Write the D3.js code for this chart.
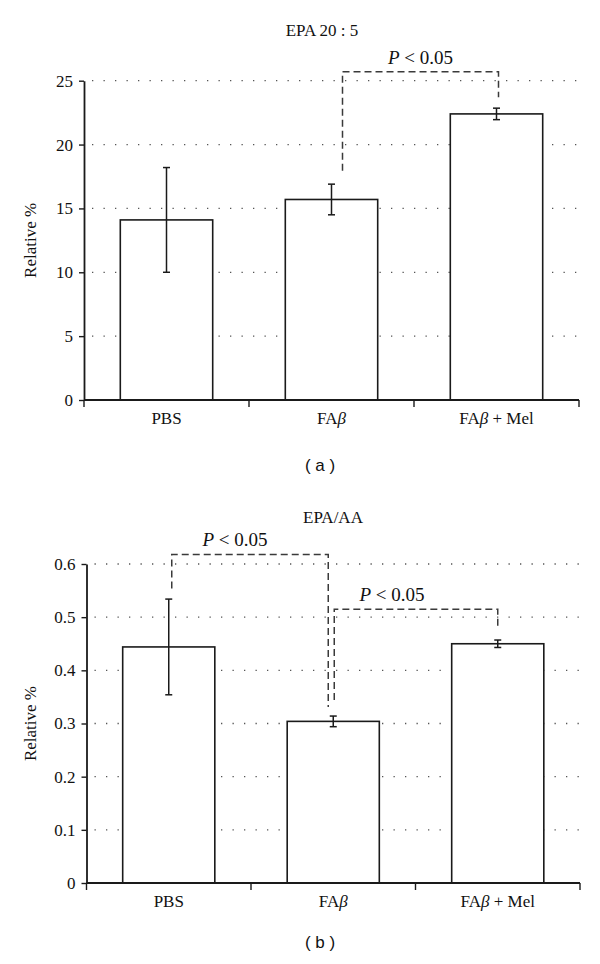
<!DOCTYPE html>
<html>
<head>
<meta charset="utf-8">
<script src="https://cdn.jsdelivr.net/npm/d3@7"></script>
<style>
  html, body { margin: 0; padding: 0; background: #fff; }
  svg { display: block; }
  .serif { font-family: "Liberation Serif", "Times New Roman", Times, serif; }
  .sans { font-family: "Liberation Sans", Arial, "DejaVu Sans", sans-serif; }
</style>
</head>
<body>
<svg id="chart" width="600" height="964"></svg>
<script>
// ---- data ----
const categories = ["PBS", "FAβ", "FAβ + Mel"];
const epaMeans = [14.1, 15.7, 22.4];
const epaErrors = [4.1, 1.2, 0.45];
const epaTicks = [0, 5, 10, 15, 20, 25];
const ratioMeans = [0.444, 0.304, 0.450];
const ratioErrors = [0.09, 0.01, 0.007];
const ratioTicks = [0, 0.1, 0.2, 0.3, 0.4, 0.5, 0.6];
const epaBrackets = [{ from: 1, to: 2, top: 25.7, fromEnd: 17.95, toEnd: 23.7, label: "P < 0.05" }];
const ratioBrackets = [
  { from: 0, to: 1, top: 0.618, fromEnd: 0.554, toEnd: 0.331, label: "P < 0.05" },
  { from: 1, to: 2, top: 0.515, fromEnd: 0.344, toEnd: 0.479, label: "P < 0.05" }
];

const svg = d3.select("#chart");

function catLabel(sel, name) {
  const parts = name.split("β");
  sel.append("tspan").text(parts[0]);
  if (parts.length > 1) {
    sel.append("tspan").style("font-style", "italic").text("β");
    sel.append("tspan").text(parts[1]);
  }
}

function pLabel(sel, label) {
  sel.append("tspan").style("font-style", "italic").text(label.slice(0, 1));
  sel.append("tspan").text(label.slice(1));
}

function panel(cfg) {
  const g = svg.append("g");
  const x = d3.scaleBand().domain(categories)
    .range([cfg.x0, cfg.x1]).paddingInner(0.44).paddingOuter(0.22);
  const y = d3.scaleLinear().domain([0, cfg.max]).range([cfg.y0, cfg.y1]);
  const step = x.step();

  // gridlines (dotted)
  g.append("g").selectAll("line").data(cfg.ticks.filter(t => t > 0)).join("line")
    .attr("x1", cfg.x0 + 8).attr("x2", cfg.x1)
    .attr("y1", d => y(d)).attr("y2", d => y(d))
    .attr("stroke", "#555").attr("stroke-width", 1.3)
    .attr("stroke-dasharray", "1.3 10.2");

  // bars
  g.append("g").selectAll("rect").data(cfg.means).join("rect")
    .attr("x", (d, i) => x(categories[i]))
    .attr("y", d => y(d))
    .attr("width", x.bandwidth())
    .attr("height", d => y(0) - y(d))
    .attr("fill", "#fff").attr("stroke", "#1a1a1a").attr("stroke-width", 1.6);

  // error bars
  const eg = g.append("g").attr("stroke", "#1a1a1a").attr("stroke-width", 1.5);
  cfg.means.forEach((m, i) => {
    const cx = x(categories[i]) + x.bandwidth() / 2;
    const e = cfg.errors[i];
    eg.append("line").attr("x1", cx).attr("x2", cx).attr("y1", y(m + e)).attr("y2", y(m - e));
    eg.append("line").attr("x1", cx - 3.5).attr("x2", cx + 3.5).attr("y1", y(m + e)).attr("y2", y(m + e));
    eg.append("line").attr("x1", cx - 3.5).attr("x2", cx + 3.5).attr("y1", y(m - e)).attr("y2", y(m - e));
  });

  // y axis
  const ya = g.append("g").attr("transform", `translate(${cfg.x0},0)`)
    .call(d3.axisLeft(y).tickValues(cfg.ticks).tickSize(5).tickPadding(6)
      .tickFormat(cfg.fmt).tickSizeOuter(0));
  ya.attr("font-family", null).attr("font-size", null);
  ya.select(".domain").attr("stroke", "#1a1a1a").attr("stroke-width", 1.8);
  ya.selectAll(".tick line").attr("stroke", "#1a1a1a").attr("stroke-width", 1.4);
  ya.selectAll(".tick text").attr("class", "serif").style("font-size", "17px").attr("fill", "#111");

  // x axis
  const xa = g.append("g");
  xa.append("line").attr("x1", cfg.x0).attr("x2", cfg.x1).attr("y1", y(0)).attr("y2", y(0))
    .attr("stroke", "#1a1a1a").attr("stroke-width", 1.8);
  d3.range(categories.length + 1).forEach(i => {
    const tx = cfg.x0 + i * step;
    xa.append("line").attr("x1", tx).attr("x2", tx).attr("y1", y(0)).attr("y2", y(0) + 7)
      .attr("stroke", "#1a1a1a").attr("stroke-width", 1.4);
  });
  categories.forEach(c => {
    const t = xa.append("text").attr("class", "serif").attr("x", x(c) + x.bandwidth() / 2).attr("y", y(0) + 24)
      .attr("text-anchor", "middle").style("font-size", "17px").attr("fill", "#111");
    catLabel(t, c);
  });

  // y label
  g.append("text").attr("class", "serif")
    .attr("transform", `translate(${cfg.ylabX},${(cfg.y0 + cfg.y1) / 2}) rotate(-90)`)
    .attr("text-anchor", "middle").style("font-size", "17px").attr("fill", "#111")
    .text("Relative %");

  // title
  g.append("text").attr("class", "serif").attr("x", cfg.titleX).attr("y", cfg.titleY).attr("text-anchor", "middle")
    .style("font-size", "17px").attr("fill", "#111").text(cfg.title);

  // significance brackets
  cfg.brackets.forEach((b, k) => {
    const off = cfg.bracketOffsets[k];
    const xa1 = x(categories[b.from]) + x.bandwidth() / 2 + off[0];
    const xb1 = x(categories[b.to]) + x.bandwidth() / 2 + off[1];
    const path = d3.path();
    path.moveTo(xa1, y(b.fromEnd));
    path.lineTo(xa1, y(b.top));
    path.lineTo(xb1, y(b.top));
    path.lineTo(xb1, y(b.toEnd));
    g.append("path").attr("d", path.toString()).attr("fill", "none")
      .attr("stroke", "#3a3a3a").attr("stroke-width", 1.5).attr("stroke-dasharray", "7 4");
    const t = g.append("text").attr("class", "serif").attr("x", (xa1 + xb1) / 2 + off[2]).attr("y", y(b.top) - 8)
      .attr("text-anchor", "middle").style("font-size", "19px").attr("fill", "#111")
      .attr("xml:space", "preserve");
    pLabel(t, b.label);
  });

  // caption
  svg.append("text").attr("class", "sans").attr("x", cfg.capX).attr("y", cfg.capY).attr("text-anchor", "middle")
    .style("font-size", "17px").attr("fill", "#111")
    .text(cfg.caption);
}

panel({
  x0: 84, x1: 579, y0: 400, y1: 80.7, max: 25, ticks: epaTicks, fmt: d3.format("d"),
  means: epaMeans, errors: epaErrors, brackets: epaBrackets,
  bracketOffsets: [[11, 2, 0]],
  title: "EPA 20 : 5", titleX: 322, titleY: 36, ylabX: 36,
  caption: "( a )", capX: 320, capY: 471
});

panel({
  x0: 86.5, x1: 580, y0: 883, y1: 564, max: 0.6, ticks: ratioTicks,
  fmt: d => d === 0 ? "0" : d3.format(".1f")(d),
  means: ratioMeans, errors: ratioErrors, brackets: ratioBrackets,
  bracketOffsets: [[3, -5, -15], [1, 0, -24]],
  title: "EPA/AA", titleX: 333, titleY: 523, ylabX: 36,
  caption: "( b )", capX: 320, capY: 948
});
</script>
</body>
</html>
